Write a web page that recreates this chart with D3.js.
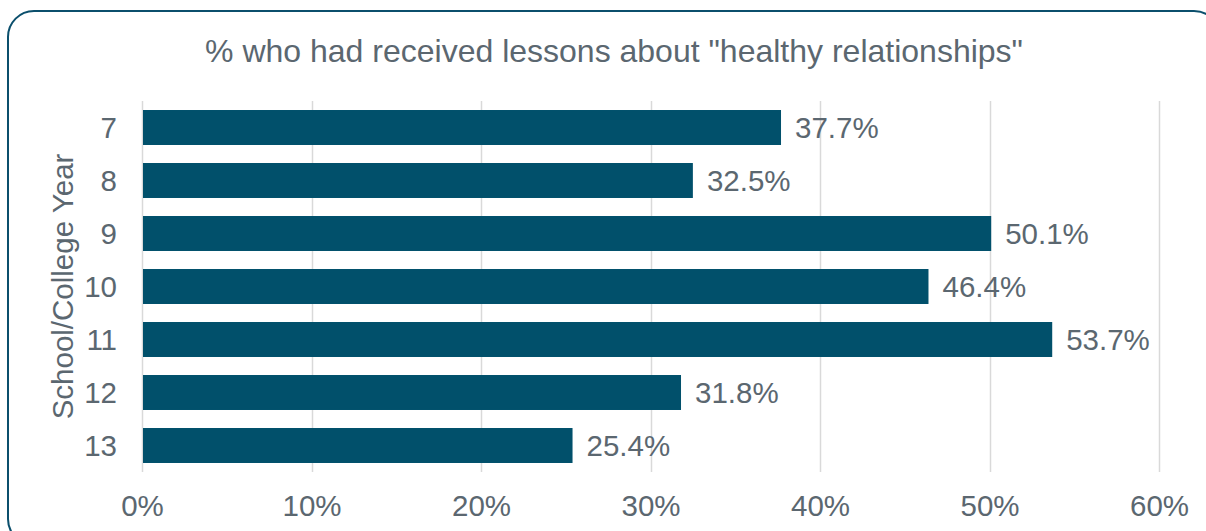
<!DOCTYPE html>
<html>
<head>
<meta charset="utf-8">
<script src="https://cdn.jsdelivr.net/npm/d3@7"></script>
<style>
  html, body { margin: 0; padding: 0; background: #fff; }
  svg { display: block; }
  text { font-family: "Liberation Sans", Arial, sans-serif; }
</style>
</head>
<body>
<svg id="chart" width="1206" height="531"></svg>
<script>
// School/college years and share who had received "healthy relationships" lessons
const years = ["7", "8", "9", "10", "11", "12", "13"];
const values = [37.7, 32.5, 50.1, 46.4, 53.7, 31.8, 25.4];
const xTicks = [0, 10, 20, 30, 40, 50, 60];
const titleText = '% who had received lessons about "healthy relationships"';
const yAxisTitle = "School/College Year";

const textColor = "#5B6770";
const barColor = "#01506B";
const gridColor = "#D9D9D9";
const labelSize = 29.5;

const svg = d3.select("#chart");

// Rounded frame
svg.append("rect")
  .attr("x", 8).attr("y", 11)
  .attr("width", 1212).attr("height", 534)
  .attr("rx", 26).attr("ry", 26)
  .attr("fill", "#fff")
  .attr("stroke", "#0B4F6C")
  .attr("stroke-width", 2);

const plot = { left: 142, right: 1159, top: 101, bottom: 472 };

const x = d3.scaleLinear().domain([0, 60]).range([plot.left, plot.right]);
const y = d3.scaleBand().domain(years).range([plot.top, plot.bottom])
  .paddingInner(0.34).paddingOuter(0.17);

// Vertical gridlines
svg.append("g").selectAll("line").data(xTicks).join("line")
  .attr("x1", d => Math.round(x(d)) + 0.5).attr("x2", d => Math.round(x(d)) + 0.5)
  .attr("y1", plot.top).attr("y2", plot.bottom)
  .attr("stroke", gridColor).attr("stroke-width", 1.5);

// Bars
svg.append("g").selectAll("rect").data(values).join("rect")
  .attr("x", x(0) + 1)
  .attr("y", (d, i) => y(years[i]))
  .attr("width", d => x(d) - x(0) - 1)
  .attr("height", y.bandwidth())
  .attr("fill", barColor);

// Value labels
svg.append("g").selectAll("text").data(values).join("text")
  .attr("x", d => x(d) + 14)
  .attr("y", (d, i) => y(years[i]) + y.bandwidth() / 2)
  .attr("dy", "0.36em")
  .attr("font-size", labelSize)
  .attr("fill", textColor)
  .text(d => d.toFixed(1) + "%");

// X axis tick labels
const xAxis = d3.axisBottom(x).tickValues(xTicks).tickFormat(d => d + "%").tickSize(0).tickPadding(0);
const gx = svg.append("g").attr("transform", `translate(0, ${plot.bottom})`).call(xAxis);
gx.select(".domain").remove();
gx.selectAll("text")
  .attr("y", 33).attr("dy", "0.36em")
  .attr("font-size", labelSize).attr("fill", textColor)
  .attr("font-family", '"Liberation Sans", Arial, sans-serif');

// Y axis tick labels
const yAxis = d3.axisLeft(y).tickSize(0).tickPadding(0);
const gy = svg.append("g").attr("transform", `translate(${plot.left - 25}, 0)`).call(yAxis);
gy.select(".domain").remove();
gy.selectAll("text")
  .attr("dy", "0.36em")
  .attr("font-size", labelSize).attr("fill", textColor)
  .attr("font-family", '"Liberation Sans", Arial, sans-serif');

// Axis title
svg.append("text")
  .attr("transform", `translate(62, ${(plot.top + plot.bottom) / 2}) rotate(-90)`)
  .attr("text-anchor", "middle").attr("dy", "0.36em")
  .attr("font-size", labelSize).attr("fill", textColor)
  .text(yAxisTitle);

// Chart title
svg.append("text")
  .attr("x", 614).attr("y", 50)
  .attr("text-anchor", "middle").attr("dy", "0.36em")
  .attr("font-size", 32).attr("fill", textColor)
  .text(titleText);
</script>
</body>
</html>
